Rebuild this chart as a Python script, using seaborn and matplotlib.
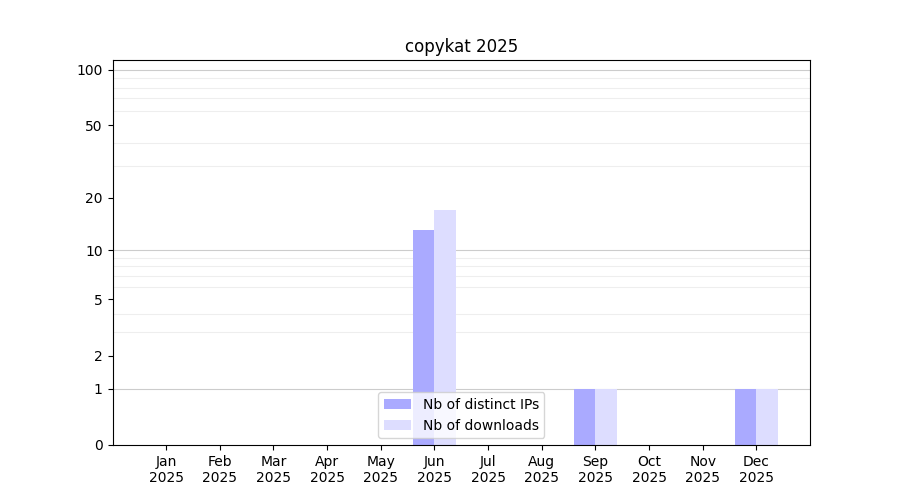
import numpy as np
import pandas as pd
from matplotlib import pyplot as plt
from matplotlib.ticker import FixedLocator
import seaborn as sns

months = ["Jan", "Feb", "Mar", "Apr", "May", "Jun",
          "Jul", "Aug", "Sep", "Oct", "Nov", "Dec"]
distinct_ips = [0, 0, 0, 0, 0, 13, 0, 0, 1, 0, 0, 1]
downloads = [0, 0, 0, 0, 0, 17, 0, 0, 1, 0, 0, 1]
yticks = [0, 1, 2, 5, 10, 20, 50, 100]

df = pd.DataFrame({
    "month": months * 2,
    "value": distinct_ips + downloads,
    "series": ["Nb of distinct IPs"] * 12 + ["Nb of downloads"] * 12,
})

fig, ax = plt.subplots(figsize=(9, 5), dpi=100)

sns.barplot(data=df, x="month", y="value", hue="series",
            palette=["#aaaaff", "#ddddff"], saturation=1, width=0.8,
            ax=ax, zorder=2)

ax.set_yscale("function", functions=(lambda v: np.log10(np.clip(v, 0, None) + 1),
                                     lambda v: 10 ** v - 1))
ax.set_ylim(0, 113)
ax.set_xlim(-1, 12)
ax.set_yticks(yticks)
ax.set_yticklabels([str(t) for t in yticks])
ax.set_xticks(range(12))
ax.set_xticklabels([m + "\n2025" for m in months])

# light grid on intermediate values, darker at decades
minor = list(range(2, 10)) + list(range(20, 100, 10))
ax.yaxis.set_minor_locator(FixedLocator(minor))
ax.tick_params(axis="y", which="minor", length=0)
ax.grid(axis="y", which="minor", color="#eeeeee", linewidth=0.8, zorder=0)
for v in [1, 10, 100]:
    ax.axhline(v, color="#cccccc", linewidth=0.8, zorder=1)

ax.set_xlabel("")
ax.set_ylabel("")
ax.set_title("copykat 2025")

handles, labels = ax.get_legend_handles_labels()
ax.legend(handles, labels, loc="lower center")

plt.savefig("out.png", dpi=100)
